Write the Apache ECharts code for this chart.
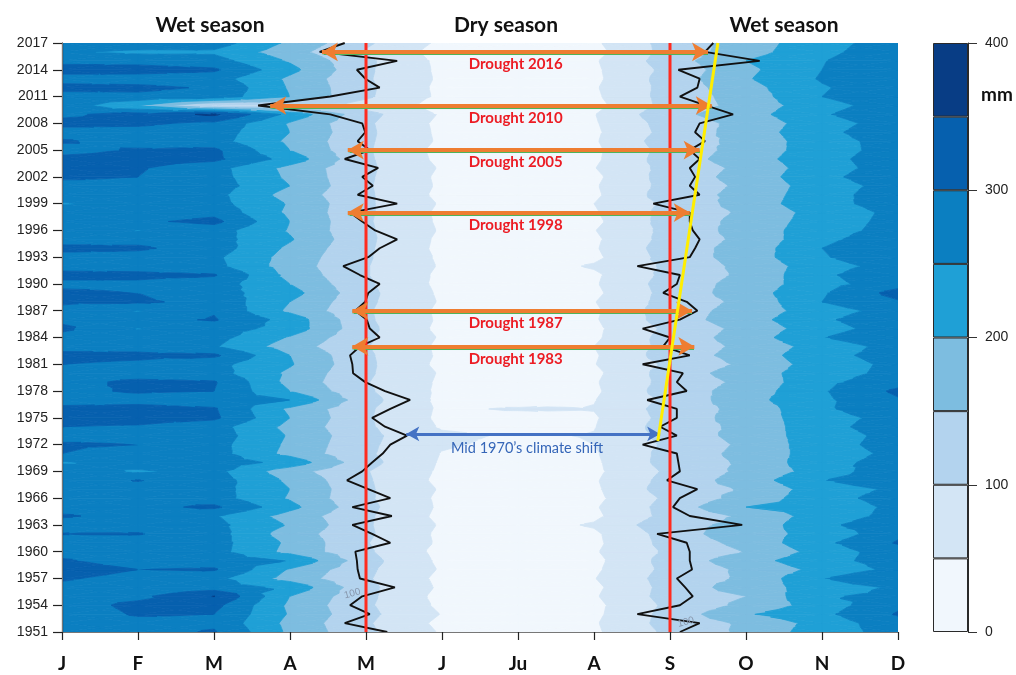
<!DOCTYPE html>
<html>
<head>
<meta charset="utf-8">
<script src="https://cdn.jsdelivr.net/npm/echarts@6/dist/echarts.min.js"></script>
<style>
  html, body { margin: 0; padding: 0; background: #ffffff; }
  #chart { width: 1016px; height: 675px; }
</style>
</head>
<body>
<div id="chart"></div>
<script>
// ---- axes ----
const BASE_YEAR = 1951;
const LAST_YEAR = 2017;
const monthLabels = ['J', 'F', 'M', 'A', 'M', 'J', 'Ju', 'A', 'S', 'O', 'N', 'D'];
const seasonTitles = ['Wet season', 'Dry season', 'Wet season'];

// ---- colour classes of monthly rainfall (mm) ----
const levels = [0, 50, 100, 150, 200, 250, 300, 350, 400];
const levelColors = ['#f1f7fd', '#d3e5f5', '#b3d3ee', '#7dbde0', '#1fa0d6', '#0b7fc1', '#0660ae', '#083d85'];

// ---- monthly rainfall, one value per year 1951..2017 ----
const jan = [278,275,272,278,282,290,305,322,305,285, 280,302,278,305,280,278,282,280,275,245,
             300,305,285,300,318,312,280,290,285,280, 300,315,280,285,310,290,282,310,308,290,
             312,285,285,312,280,275,300,285,245,285, 280,310,312,312,285,305,280,315,290,285,
             285,312,285,315,290,258,282];
const feb = [282,285,305,312,288,275,285,300,280,278, 280,303,282,285,285,290,287,302,245,270,
             285,300,290,295,320,315,285,305,310,280, 290,312,280,270,248,282,248,308,300,290,
             312,280,280,308,285,248,290,265,275,282, 285,300,305,315,305,282,285,308,320,200,
             290,310,280,318,285,240,285];
const mar = [305,290,300,315,352,275,265,305,280,268, 270,270,265,255,310,272,270,275,265,280,
             270,268,275,270,310,305,275,300,305,270, 265,310,255,268,275,305,295,285,270,275,
             305,265,260,275,270,272,315,285,268,265, 275,270,268,312,310,270,275,290,360,95,
             280,295,272,308,270,242,275];
const apr = [190,185,195,190,200,238,180,195,248,185, 190,175,195,180,215,195,200,190,170,233,
             185,190,195,185,200,190,250,200,185,190, 205,200,175,195,230,230,190,200,220,200,
             185,175,180,190,205,195,200,190,195,180, 200,190,185,230,200,190,200,195,235,90,
             200,195,190,215,195,170,190];
const may = [110,106,113,108,112,113,106,110,118,108, 103,108,106,108,113,108,108,106,103,116,
             108,110,113,108,106,108,118,108,103,108, 110,108,103,108,113,108,106,110,113,108,
             103,103,106,108,110,108,106,108,108,108, 106,108,110,108,106,108,110,108,116,80,
             108,110,106,108,110,95,108];
const jun = [45,38,48,40,35,42,38,45,40,35, 42,40,45,38,42,40,45,38,42,45,
             48,55,58,45,40,42,38,40,42,45, 38,42,40,45,38,42,40,45,42,38,
             40,45,42,38,40,45,42,40,45,38, 42,40,45,38,35,42,40,38,45,30,
             40,38,42,40,38,30,40];
const jul = [22,20,25,18,15,22,20,25,18,15, 22,20,28,18,22,15,20,18,25,22,
             30,40,45,35,30,55,25,20,22,25, 18,22,20,25,18,22,20,25,22,18,
             20,25,22,20,22,25,20,18,28,18, 22,20,25,18,15,22,20,18,25,12,
             20,18,22,20,18,10,18];
const aug = [42,45,40,38,45,40,48,42,38,45, 40,42,55,40,45,38,42,45,40,42,
             45,50,52,48,45,52,48,42,45,40, 48,45,50,42,40,45,42,48,40,45,
             42,55,40,45,42,48,40,45,50,42, 45,40,48,42,40,45,42,45,48,35,
             42,45,40,42,45,35,42];
const sep = [112,120,118,112,120,118,122,115,120,110, 118,122,135,118,120,112,125,118,110,120,
             118,110,118,125,118,122,112,125,118,122, 110,125,118,120,112,125,128,120,118,122,
             115,110,120,125,118,115,120,118,112,125, 118,122,118,125,120,128,118,122,135,118,
             120,118,122,115,125,118,120];
const oct = [160,158,195,162,150,175,158,160,178,152, 165,185,162,158,200,168,155,172,162,158,
             165,160,168,162,172,165,182,170,162,175, 160,168,162,172,165,178,168,162,175,168,
             160,165,172,168,162,170,165,158,170,165, 160,168,162,175,168,162,170,165,178,168,
             172,182,195,188,200,178,172];
const nov = [228,220,238,225,245,222,248,215,235,220, 238,212,240,225,218,232,228,248,222,235,
             225,230,228,235,230,242,240,245,238,228, 225,235,222,248,230,242,228,250,245,232,
             240,228,245,250,238,230,225,222,235,232, 228,238,230,235,228,232,238,230,245,232,
             250,245,255,250,248,240,235];
const dec = [268,282,305,290,262,258,300,265,270,280, 305,290,280,265,262,270,258,282,288,268,
             262,270,265,275,268,285,295,310,280,265, 262,270,268,290,275,285,270,295,318,280,
             290,272,290,295,282,268,265,262,270,275, 268,280,272,275,270,268,280,272,285,275,
             288,285,290,282,280,275,270];

// ---- 100 mm contour: dry-season onset and demise (month position, 0 = Jan) ----
const onsetMonth = [4.28,3.72,4.05,3.79,3.95,4.38,3.92,3.89,3.88,3.86, 4.32,4.08,3.82,4.34,3.82,4.32,4.03,3.75,3.95,4.08,
                    4.22,4.32,4.54,4.25,4.08,4.32,4.58,4.25,3.99,3.83, 3.82,3.79,3.92,4.18,4.05,4.01,3.86,3.99,4.03,4.18,
                    3.92,3.70,4.03,4.18,4.41,4.12,3.95,3.79,4.41,3.89, 4.09,3.95,4.16,3.72,4.05,3.89,3.99,3.95,3.53,2.58,
                    3.53,4.18,3.99,3.88,4.41,3.39,3.72];
const demiseMonth = [8.13,8.39,7.57,8.13,8.30,8.20,8.09,8.29,8.26,8.26, 8.22,7.83,8.95,8.26,8.04,8.13,8.36,7.96,8.13,8.11,
                     8.09,7.64,8.09,7.87,8.09,8.09,7.70,8.22,8.09,8.17, 7.64,8.26,7.91,8.00,7.64,8.13,8.36,8.22,7.91,8.09,
                     8.13,7.57,8.26,8.33,8.39,8.30,8.26,8.26,7.78,8.39, 8.26,8.33,8.26,8.39,8.26,8.46,8.33,8.39,8.83,8.47,
                     8.13,8.36,8.39,8.11,9.18,8.46,8.57];
const contourLabelPos = [[3.82, 1955.3], [8.21, 1952.1]];

// ---- annotations ----
const seasonBounds = [4, 8];                        // 1 May and 1 Sep
const droughtYears = [2016, 2010, 2005, 1998, 1987, 1983];
const droughtStart = [3.42, 2.74, 3.76, 3.76, 3.82, 3.82];
const droughtEnd   = [8.50, 8.55, 8.39, 8.26, 8.29, 8.32];
const droughtLabelMonth = 5.97;
const shiftArrow = { year: 1973.2, start: 4.53, end: 7.87, labelMonth: 6.12, text: 'Mid 1970\u2019s climate shift' };
const shiftTrend = [[7.84, 1972.4], [8.63, 2017]];

// ---------------------------------------------------------------
const nYears = LAST_YEAR - BASE_YEAR + 1;
const rain = [jan, feb, mar, apr, may, jun, jul, aug, sep, oct, nov, dec];
const yOf = year => year - BASE_YEAR;

// Clip a polygon of [x, y, value] points against value >= level (or <= level)
function clipPoly(poly, level, keepAbove) {
  const out = [];
  const inside = p => keepAbove ? p[2] >= level : p[2] <= level;
  for (let i = 0; i < poly.length; i++) {
    const a = poly[i], b = poly[(i + 1) % poly.length];
    const ia = inside(a), ib = inside(b);
    if (ia) out.push(a);
    if (ia !== ib) {
      const t = (level - a[2]) / (b[2] - a[2]);
      out.push([a[0] + t * (b[0] - a[0]), a[1] + t * (b[1] - a[1]), level]);
    }
  }
  return out;
}

// Filled bands inside one triangle
function triangleBands(tri) {
  const res = [];
  for (let k = 0; k < levels.length - 1; k++) {
    let p = clipPoly(tri, levels[k], true);
    if (p.length < 3) continue;
    if (k < levels.length - 2) {
      p = clipPoly(p, levels[k + 1], false);
      if (p.length < 3) continue;
    }
    res.push([k, p]);
  }
  return res;
}

const cells = [];
for (let m = 0; m < 11; m++) {
  for (let k = 0; k < nYears - 1; k++) cells.push([m, k]);
}

function renderCell(params, api) {
  const m = api.value(0), k = api.value(1);
  const c = v => Math.max(0, Math.min(399.9, v));
  const p00 = [m, k, c(rain[m][k])];
  const p10 = [m + 1, k, c(rain[m + 1][k])];
  const p11 = [m + 1, k + 1, c(rain[m + 1][k + 1])];
  const p01 = [m, k + 1, c(rain[m][k + 1])];
  const mid = [m + 0.5, k + 0.5, (p00[2] + p10[2] + p11[2] + p01[2]) / 4];
  const tris = [[p00, p10, mid], [p10, p11, mid], [p11, p01, mid], [p01, p00, mid]];
  const children = [];
  tris.forEach(t => {
    triangleBands(t).forEach(([b, poly]) => {
      children.push({
        type: 'polygon',
        shape: { points: poly.map(p => api.coord([p[0], p[1]])) },
        style: { fill: levelColors[b], stroke: levelColors[b], lineWidth: 0.8 }
      });
    });
  });
  return { type: 'group', children };
}

const chart = echarts.init(document.getElementById('chart'), null, { renderer: 'canvas' });

const arrowLines = droughtYears.map((yr, i) => [
  { coord: [droughtStart[i], yOf(yr)] },
  { coord: [droughtEnd[i], yOf(yr)] }
]);

const colorbarSeries = levels.slice(0, -1).map((lo, k) => ({
  type: 'bar',
  xAxisIndex: 2,
  yAxisIndex: 2,
  stack: 'scale',
  barWidth: '100%',
  silent: true,
  data: [levels[k + 1] - lo],
  itemStyle: { color: levelColors[k], borderColor: '#2a2a2a', borderWidth: 1, opacity: 1 }
}));

const titleX = [210, 506, 784];
const textLabel = (extra) => Object.assign({ show: true, opacity: 1 }, extra);

const option = {
  animation: false,
  backgroundColor: '#ffffff',
  graphic: [
    ...seasonTitles.map((t, i) => ({
      type: 'text', x: titleX[i], y: 25, z: 100,
      style: { text: t, fontFamily: 'Lato', fontWeight: 'bold', fontSize: 21, fill: '#111',
               textAlign: 'center', textVerticalAlign: 'middle' }
    })),
    { type: 'text', x: 997, y: 95, z: 100,
      style: { text: 'mm', fontFamily: 'Lato', fontWeight: 'bold', fontSize: 19, fill: '#111',
               textAlign: 'center', textVerticalAlign: 'middle' } }
  ],
  grid: [
    { left: 62, top: 43, width: 836, height: 589 },
    { left: 933, top: 43, width: 35, height: 589 }
  ],
  xAxis: [
    {
      type: 'value', min: 0, max: 11, interval: 1, z: 5,
      axisLine: { lineStyle: { color: '#111', width: 1.2 } },
      axisTick: { length: 8, lineStyle: { color: '#222', width: 1.2 } },
      axisLabel: { formatter: v => monthLabels[v], margin: 22, color: '#111',
                   fontFamily: 'Lato', fontWeight: 'bold', fontSize: 19 },
      splitLine: { show: false }
    },
    {
      type: 'value', min: 0, max: 11, position: 'top', z: 5,
      axisLine: { show: true, lineStyle: { color: '#777', width: 1 } },
      axisTick: { show: false }, axisLabel: { show: false }, splitLine: { show: false }
    },
    { type: 'category', gridIndex: 1, data: ['mm'], show: false }
  ],
  yAxis: [
    {
      type: 'value', min: 0, max: nYears - 1, interval: 3, z: 5,
      axisLine: { show: true, lineStyle: { color: '#111', width: 1.2 } },
      axisTick: { show: true, length: 9, lineStyle: { color: '#222', width: 1.2 } },
      axisLabel: { formatter: v => String(BASE_YEAR + v), margin: 14, color: '#222',
                   fontFamily: 'Liberation Sans', fontSize: 14 },
      splitLine: { show: false }
    },
    {
      type: 'value', min: 0, max: nYears - 1, position: 'right', z: 5,
      axisLine: { show: true, lineStyle: { color: '#777', width: 1 } },
      axisTick: { show: false }, axisLabel: { show: false }, splitLine: { show: false }
    },
    {
      type: 'value', gridIndex: 1, min: 0, max: 400, interval: 100, position: 'right', z: 5,
      axisLine: { show: true, lineStyle: { color: '#2a2a2a', width: 1 } },
      axisTick: { show: true, length: 9, lineStyle: { color: '#333' } },
      axisLabel: { margin: 17, color: '#222', fontFamily: 'Liberation Sans', fontSize: 14 },
      splitLine: { show: false }
    }
  ],
  series: [
    {
      type: 'custom',
      name: 'rainfall',
      silent: true,
      renderItem: renderCell,
      data: cells,
      encode: { x: 0, y: 1 },
      clip: true,
      z: 1
    },
    {
      type: 'line', name: 'onset', silent: true, symbol: 'none', z: 3,
      data: onsetMonth.map((m, i) => [m, i]),
      lineStyle: { color: '#111', width: 1.9 }
    },
    {
      type: 'line', name: 'demise', silent: true, symbol: 'none', z: 3,
      data: demiseMonth.map((m, i) => [m, i]),
      lineStyle: { color: '#111', width: 1.9 }
    },
    {
      type: 'scatter', name: 'contour labels', silent: true, symbolSize: 0, z: 3,
      itemStyle: { opacity: 1 },
      data: contourLabelPos.map(p => [p[0], yOf(p[1])]),
      label: textLabel({ formatter: '100', position: 'inside', rotate: 15,
               color: '#8796ab', fontFamily: 'Liberation Sans', fontSize: 10 })
    },
    ...seasonBounds.map(m => ({
      type: 'line', silent: true, symbol: 'none', z: 4,
      data: [[m, 0], [m, nYears - 1]],
      lineStyle: { color: '#ff2b1f', width: 3 }
    })),
    {
      type: 'line', name: 'trend', silent: true, symbol: 'none', z: 5,
      data: shiftTrend.map(p => [p[0], yOf(p[1])]),
      lineStyle: { color: '#ffee00', width: 3 }
    },
    {
      type: 'line', name: 'droughts', silent: true, data: [], z: 6,
      markLine: {
        silent: true,
        symbol: ['arrow', 'arrow'],
        symbolSize: [14, 16],
        lineStyle: { color: '#ee7d31', width: 4, type: 'solid', opacity: 1,
                     shadowColor: '#4fb35a', shadowOffsetY: 1.2, shadowBlur: 1 },
        label: { show: false },
        emphasis: { disabled: true },
        data: arrowLines
      }
    },
    {
      type: 'scatter', name: 'drought labels', silent: true, symbolSize: 0, z: 7,
      itemStyle: { opacity: 1 },
      data: droughtYears.map(yr => [droughtLabelMonth, yOf(yr), yr]),
      label: textLabel({ position: 'bottom', distance: 5, formatter: p => 'Drought ' + p.value[2],
               color: '#ec1c24', fontFamily: 'Lato', fontWeight: 'bold', fontSize: 15 })
    },
    {
      type: 'line', name: 'shift', silent: true, data: [], z: 6,
      markLine: {
        silent: true,
        symbol: ['arrow', 'arrow'],
        symbolSize: [11, 13],
        lineStyle: { color: '#4472c4', width: 3, type: 'solid', opacity: 1 },
        label: { show: false },
        emphasis: { disabled: true },
        data: [[{ coord: [shiftArrow.start, yOf(shiftArrow.year)] },
                { coord: [shiftArrow.end, yOf(shiftArrow.year)] }]]
      }
    },
    {
      type: 'scatter', name: 'shift label', silent: true, symbolSize: 0, z: 7,
      itemStyle: { opacity: 1 },
      data: [[shiftArrow.labelMonth, yOf(shiftArrow.year)]],
      label: textLabel({ position: 'bottom', distance: 7, formatter: shiftArrow.text,
               color: '#3566b8', fontFamily: 'Lato', fontSize: 14.5 })
    },
    ...colorbarSeries
  ]
};

chart.setOption(option);
</script>
</body>
</html>
